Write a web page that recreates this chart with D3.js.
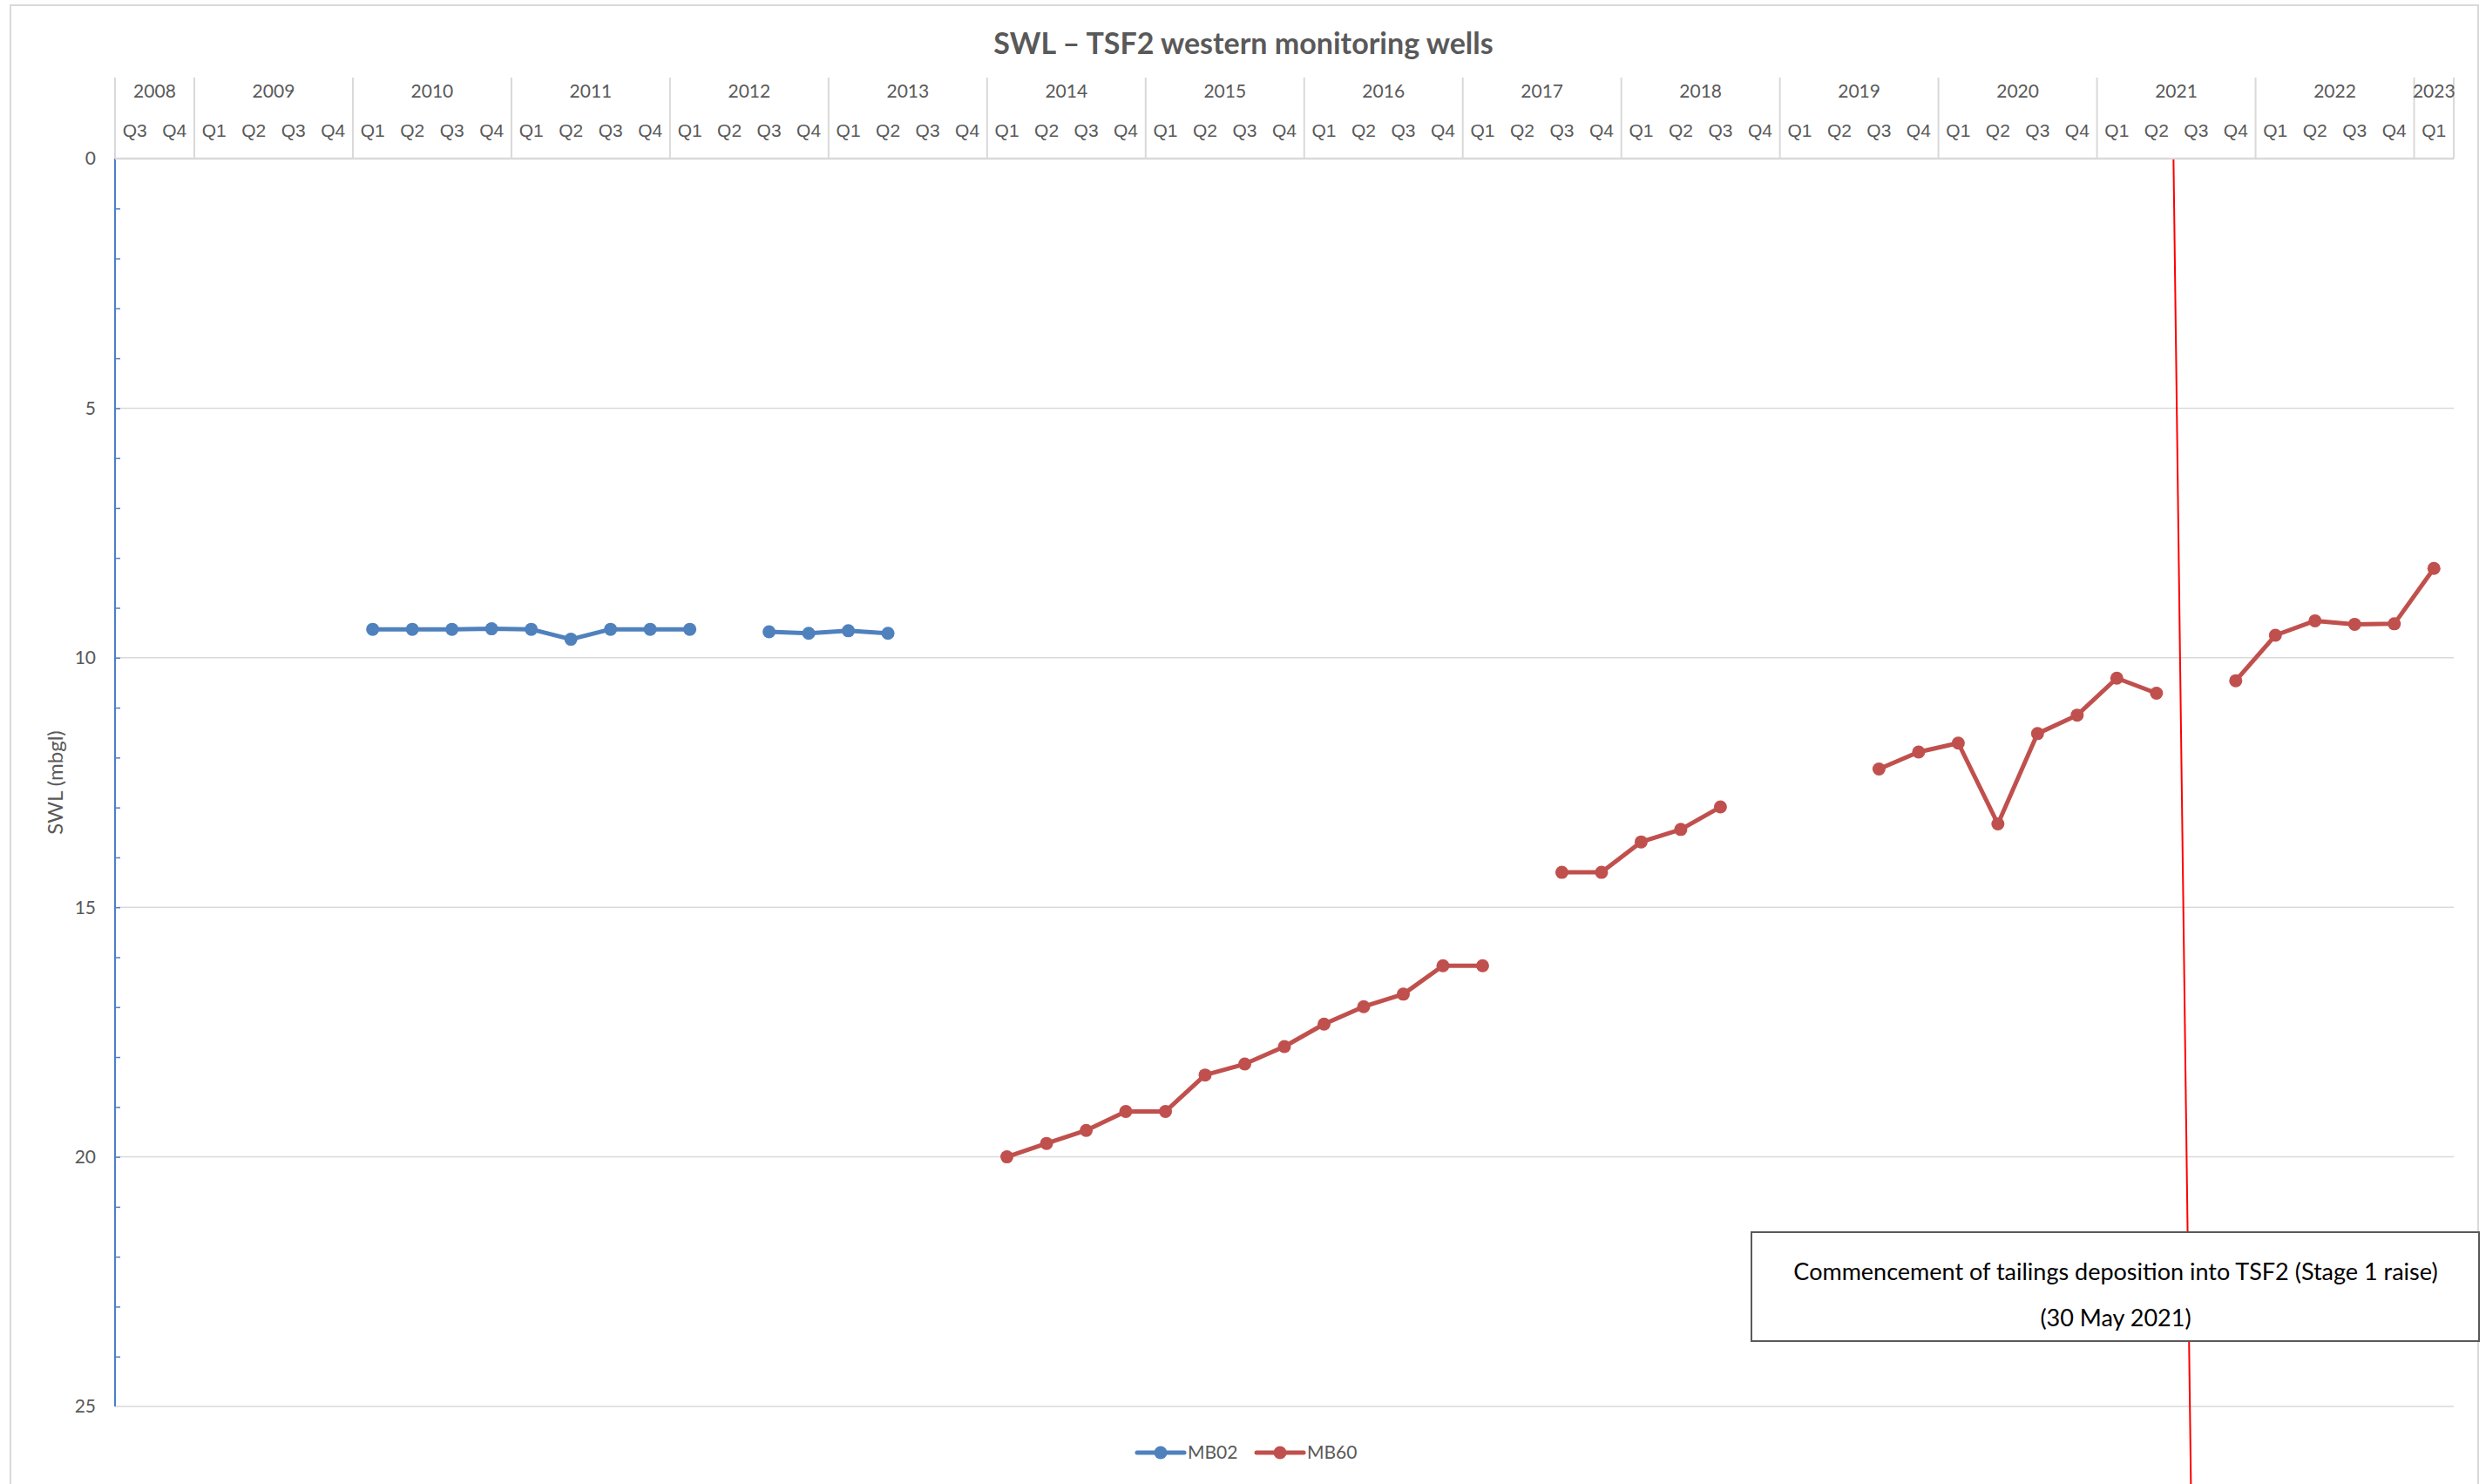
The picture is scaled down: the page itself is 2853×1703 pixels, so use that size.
<!DOCTYPE html>
<html>
<head>
<meta charset="utf-8">
<title>SWL – TSF2 western monitoring wells</title>
<script src="https://cdn.jsdelivr.net/npm/d3@7"></script>
<style>
  html, body { margin: 0; padding: 0; background: #fff; }
  svg { display: block; font-family: Lato, "Open Sans", sans-serif; }
</style>
</head>
<body>
<div id="chart-area"></div>
<script>
/***** Data *****/
const years        = [2008, 2009, 2010, 2011, 2012, 2013, 2014, 2015, 2016, 2017, 2018, 2019, 2020, 2021, 2022, 2023];
const quarterNames = ["Q1", "Q2", "Q3", "Q4"];
const firstQuarter = "2008 Q3";
const lastQuarter  = "2023 Q1";

const yTicks = [0, 5, 10, 15, 20, 25];

// SWL (mbgl), one value per quarter from the start quarter, null = no reading
const mb02Start  = "2010 Q1";
const mb02Values = [9.43, 9.43, 9.43, 9.42, 9.43, 9.63, 9.43, 9.43, 9.43, null, 9.48, 9.51, 9.46, 9.51];

const mb60Start  = "2014 Q1";
const mb60Values = [20.0, 19.73, 19.47, 19.09,
                    19.09, 18.36, 18.14, 17.79,
                    17.34, 16.99, 16.74, 16.17,
                    16.17, null, 14.30, 14.30,
                    13.69, 13.44, 12.99, null,
                    null, null, 12.23, 11.89,
                    11.71, 13.33, 11.52, 11.15,
                    10.41, 10.71, null, 10.46,
                    9.55, 9.26, 9.33, 9.32,
                    8.21];

const seriesNames  = ["MB02", "MB60"];
const seriesColors = ["#4F81BD", "#C0504D"];

const noteLines = ["Commencement of tailings deposition into TSF2 (Stage 1 raise)", "(30 May 2021)"];
// red marker line: [quarter, fraction across the quarter]
const eventTop    = ["2021 Q2", 0.93];
const eventBottom = ["2021 Q3", 0.37];

/***** Build categories *****/
let categories = [];
years.forEach(y => quarterNames.forEach(q => categories.push(`${y} ${q}`)));
categories = categories.slice(categories.indexOf(firstQuarter), categories.indexOf(lastQuarter) + 1);

function toSeries(start, values) {
  const i0 = categories.indexOf(start);
  return values.map((v, i) => ({ cat: categories[i0 + i], value: v }));
}
const series = [toSeries(mb02Start, mb02Values), toSeries(mb60Start, mb60Values)];

/***** Layout *****/
const W = 2853, H = 1703;
const plot = { left: 132, right: 2816, top: 182, bottom: 1614 };
const grey = "#595959", gridCol = "#d9d9d9";

const xScale = d3.scaleBand().domain(categories).range([plot.left, plot.right]).paddingInner(0).paddingOuter(0);
const yScale = d3.scaleLinear().domain([0, 25]).range([plot.top, plot.bottom]);
const bw = xScale.bandwidth();
const cx = c => xScale(c) + bw / 2;

const svg = d3.select("#chart-area").append("svg")
  .attr("width", W).attr("height", H)
  .attr("viewBox", `0 0 ${W} ${H}`);

svg.append("rect").attr("width", W).attr("height", H).attr("fill", "#fff");

// chart frame
svg.append("rect")
  .attr("x", 12).attr("y", 6).attr("width", 2832).attr("height", H + 20)
  .attr("fill", "none").attr("stroke", gridCol).attr("stroke-width", 2);

// title
svg.append("text")
  .attr("x", 1427).attr("y", 62)
  .attr("text-anchor", "middle")
  .attr("font-size", 34).attr("font-weight", "bold").attr("fill", grey)
  .text("SWL \u2013 TSF2 western monitoring wells");

/***** Gridlines *****/
svg.append("g").selectAll("line")
  .data(yTicks.filter(d => d > 0))
  .join("line")
  .attr("x1", plot.left).attr("x2", plot.right)
  .attr("y1", d => yScale(d)).attr("y2", d => yScale(d))
  .attr("stroke", gridCol).attr("stroke-width", 1.5);

/***** Y axis *****/
const gY = svg.append("g").attr("transform", `translate(${plot.left},0)`);
gY.call(d3.axisRight(yScale).tickValues(d3.range(1, 25)).tickSize(6).tickFormat(""));
gY.select(".domain").remove();
gY.selectAll(".tick line").attr("stroke", "#4a7fcb").attr("stroke-width", 1.5);
gY.append("line")
  .attr("y1", plot.top).attr("y2", plot.bottom)
  .attr("stroke", "#4a7fcb").attr("stroke-width", 2);

svg.append("g").selectAll("text")
  .data(yTicks)
  .join("text")
  .attr("x", 110).attr("y", d => yScale(d))
  .attr("dy", "0.35em")
  .attr("text-anchor", "end")
  .attr("font-size", 21).attr("fill", grey)
  .text(d => d);

svg.append("text")
  .attr("transform", `translate(64,${(plot.top + plot.bottom) / 2}) rotate(-90)`)
  .attr("text-anchor", "middle").attr("dy", "0.35em")
  .attr("font-size", 24).attr("fill", grey)
  .text("SWL (mbgl)");

/***** Top category axis (quarters + years) *****/
const gX = svg.append("g").attr("transform", `translate(0,${plot.top})`);
gX.call(d3.axisTop(xScale).tickSize(0).tickPadding(25).tickFormat(d => d.split(" ")[1]));
gX.select(".domain").remove();
gX.selectAll(".tick text").attr("font-size", 21).attr("fill", grey).attr("font-family", null);

svg.append("line")
  .attr("x1", plot.left).attr("x2", plot.right)
  .attr("y1", plot.top).attr("y2", plot.top)
  .attr("stroke", gridCol).attr("stroke-width", 2.5);

const yearGroups = d3.groups(categories, c => c.split(" ")[0]).map(([y, cats]) => ({
  year: y,
  x0: xScale(cats[0]),
  x1: xScale(cats[cats.length - 1]) + bw
}));

svg.append("g").selectAll("line")
  .data([plot.left].concat(yearGroups.map(g => g.x1)))
  .join("line")
  .attr("x1", d => d).attr("x2", d => d)
  .attr("y1", 89).attr("y2", plot.top)
  .attr("stroke", gridCol).attr("stroke-width", 2);

svg.append("g").selectAll("text")
  .data(yearGroups)
  .join("text")
  .attr("x", d => (d.x0 + d.x1) / 2).attr("y", 112)
  .attr("text-anchor", "middle")
  .attr("font-size", 21).attr("fill", grey)
  .text(d => d.year);

/***** Lines + markers *****/
const line = d3.line()
  .defined(d => d.value != null)
  .x(d => cx(d.cat))
  .y(d => yScale(d.value));

series.forEach((s, i) => {
  svg.append("path")
    .datum(s)
    .attr("fill", "none")
    .attr("stroke", seriesColors[i])
    .attr("stroke-width", 5)
    .attr("stroke-linejoin", "round")
    .attr("d", line);
  svg.append("g").selectAll("circle")
    .data(s.filter(d => d.value != null))
    .join("circle")
    .attr("cx", d => cx(d.cat))
    .attr("cy", d => yScale(d.value))
    .attr("r", 7.5)
    .attr("fill", seriesColors[i]);
});

/***** Event line + note *****/
const ex = ([c, f]) => xScale(c) + bw * f;
svg.append("line")
  .attr("x1", ex(eventTop)).attr("y1", yScale(0) + 1)
  .attr("x2", ex(eventBottom)).attr("y2", yScale(26.6))
  .attr("stroke", "#ff0000").attr("stroke-width", 2);

const note = svg.append("g").attr("transform", "translate(2010,1414)");
note.append("rect")
  .attr("width", 835).attr("height", 125)
  .attr("fill", "#fff").attr("stroke", "#595959").attr("stroke-width", 2);
note.selectAll("text")
  .data(noteLines)
  .join("text")
  .attr("x", 418).attr("y", (d, i) => 46 + i * 53)
  .attr("dy", "0.35em")
  .attr("text-anchor", "middle")
  .attr("font-size", 27).attr("fill", "#000")
  .text(d => d);

/***** Legend *****/
const legend = svg.append("g").attr("transform", "translate(1305,1667)");
const item = legend.selectAll("g")
  .data(seriesNames)
  .join("g")
  .attr("transform", (d, i) => `translate(${i * 137},0)`);
item.append("line")
  .attr("x1", 0).attr("x2", 54)
  .attr("stroke", (d, i) => seriesColors[i]).attr("stroke-width", 5).attr("stroke-linecap", "round");
item.append("circle")
  .attr("cx", 27).attr("r", 7.5)
  .attr("fill", (d, i) => seriesColors[i]);
item.append("text")
  .attr("x", 58).attr("dy", "0.35em")
  .attr("font-size", 21).attr("fill", grey)
  .text(d => d);
</script>
</body>
</html>
